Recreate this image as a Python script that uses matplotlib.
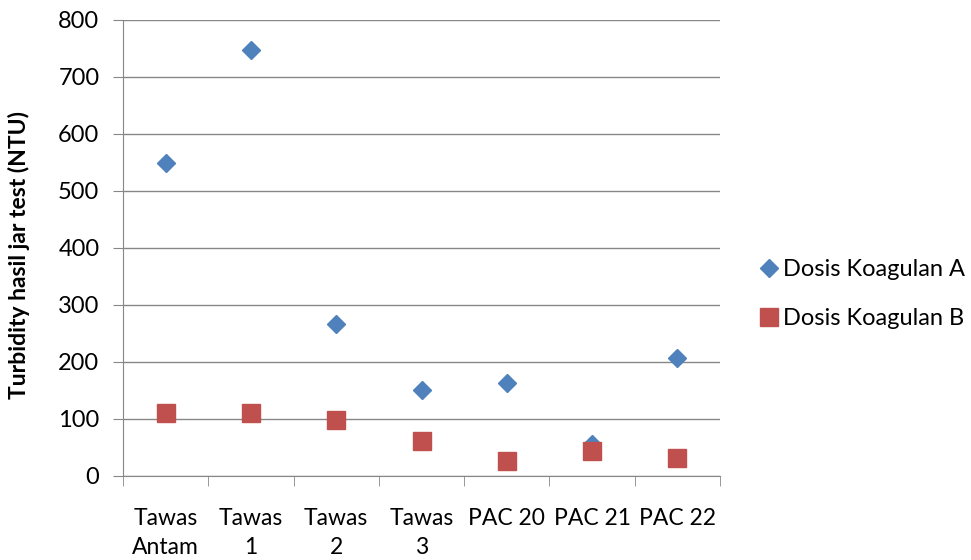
import matplotlib.pyplot as plt
import numpy as np

categories = ["Tawas\nAntam", "Tawas\n1", "Tawas\n2", "Tawas\n3", "PAC 20", "PAC 21", "PAC 22"]
dosis_a = [549, 748, 266, 151, 163, 57, 207]
dosis_b = [111, 111, 98, 62, 26, 44, 32]

plt.rcParams["font.family"] = ["Lato", "DejaVu Sans"]

fig = plt.figure(figsize=(9.71, 5.6), dpi=100)
ax = fig.add_axes([0.1267, 0.15, 0.6148, 0.8143])

x = np.arange(len(categories))
grid_col = "#878787"

ax.plot(x, dosis_a, "D", color="#4F81BD", markersize=9, linestyle="none", label="Dosis Koagulan A", zorder=3)
ax.plot(x, dosis_b, "s", color="#C0504D", markersize=13, linestyle="none", label="Dosis Koagulan B", zorder=4)

ax.set_xlim(-0.5, len(categories) - 0.5)
ax.set_ylim(0, 800)
ax.set_yticks(range(0, 801, 100))
ax.set_xticks(x)
ax.set_xticklabels(categories, fontsize=16.5, linespacing=1.45)
ax.set_xticks(np.arange(-0.5, len(categories), 1), minor=True)
ax.tick_params(axis="x", which="major", length=0, pad=23)
ax.tick_params(axis="x", which="minor", length=7, color=grid_col, direction="out")
ax.tick_params(axis="y", length=7, color=grid_col, labelsize=17, pad=10)

ax.grid(axis="y", color=grid_col, linewidth=1)
ax.set_axisbelow(True)
for side in ["top", "right"]:
    ax.spines[side].set_visible(False)
for side in ["left", "bottom"]:
    ax.spines[side].set_color(grid_col)

ax.set_ylabel("Turbidity hasil jar test (NTU)", fontsize=16.5, fontweight="bold")
ax.yaxis.set_label_coords(-0.155, 0.485)

fig.legend(loc="center left", bbox_to_anchor=(0.78, 0.475), frameon=False, fontsize=17,
           handletextpad=0.1, labelspacing=1.2, handlelength=1.0, borderaxespad=0, borderpad=0)

fig.savefig("out.png", dpi=100)
